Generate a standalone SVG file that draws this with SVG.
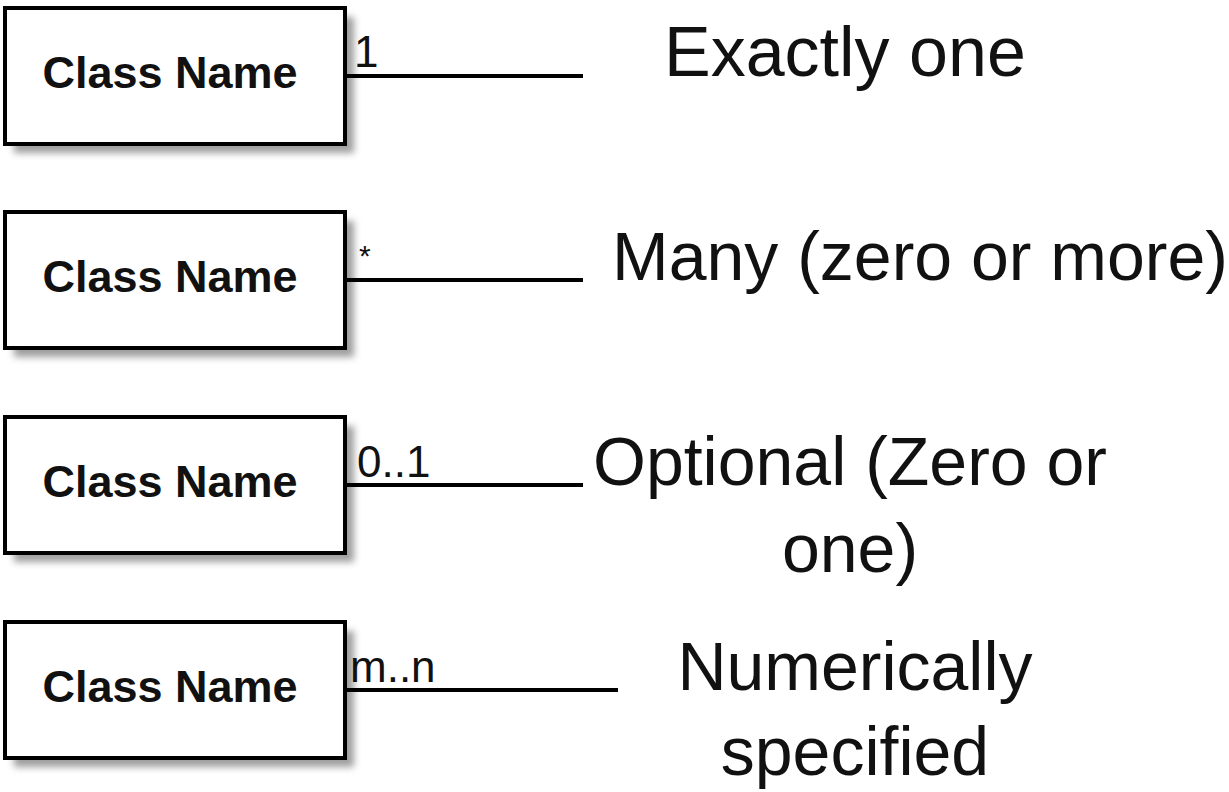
<svg xmlns="http://www.w3.org/2000/svg" width="1229" height="792" viewBox="0 0 1229 792">
  <defs>
    <filter id="shadow" x="-10%" y="-10%" width="130%" height="140%">
      <feGaussianBlur stdDeviation="3.5"/>
    </filter>
    <style>
      .box { fill: #ffffff; stroke: #000000; stroke-width: 4; }
      .shade { fill: #000000; fill-opacity: 0.38; filter: url(#shadow); }
      .cls { font-family: "Liberation Sans", Arial, sans-serif; font-weight: bold; font-size: 45px; fill: #111111; text-anchor: middle; }
      .mult { font-family: "Liberation Sans", Arial, sans-serif; font-size: 44px; fill: #111111; }
      .desc { font-family: "Liberation Sans", Arial, sans-serif; font-size: 68px; fill: #111111; }
      .conn { stroke: #000000; stroke-width: 4; fill: none; }
    </style>
  </defs>
  <rect width="1229" height="792" fill="#ffffff"/>

  <g id="node-exactly-one">
    <rect class="shade" x="14" y="17" width="340" height="136"/>
    <rect class="box" x="5" y="8" width="340" height="136"/>
    <text class="cls" x="170" y="88">Class Name</text>
  </g>
  <g id="node-many">
    <rect class="shade" x="14" y="221" width="340" height="136"/>
    <rect class="box" x="5" y="212" width="340" height="136"/>
    <text class="cls" x="170" y="292">Class Name</text>
  </g>
  <g id="node-optional">
    <rect class="shade" x="14" y="426" width="340" height="136"/>
    <rect class="box" x="5" y="417" width="340" height="136"/>
    <text class="cls" x="170" y="497">Class Name</text>
  </g>
  <g id="node-numeric">
    <rect class="shade" x="14" y="631" width="340" height="136"/>
    <rect class="box" x="5" y="622" width="340" height="136"/>
    <text class="cls" x="170" y="702">Class Name</text>
  </g>

  <g id="connectors">
    <line class="conn" x1="347" y1="76" x2="583" y2="76"/>
    <line class="conn" x1="347" y1="280" x2="583" y2="280"/>
    <line class="conn" x1="347" y1="485" x2="583" y2="485"/>
    <line class="conn" x1="347" y1="690" x2="618" y2="690"/>
    <text class="mult" x="354" y="67">1</text>
    <text class="mult" x="359" y="266" style="font-size:30px">*</text>
    <text class="mult" x="357" y="477">0..1</text>
    <text class="mult" x="350" y="682">m..n</text>
  </g>

  <g id="labels">
    <text class="desc" x="664" y="76" style="font-size:70px">Exactly one</text>
    <text class="desc" x="612" y="280">Many (zero or more)</text>
    <text class="desc" x="850" y="485" text-anchor="middle">Optional (Zero or</text>
    <text class="desc" x="850" y="572" text-anchor="middle">one)</text>
    <text class="desc" x="855" y="690" text-anchor="middle">Numerically</text>
    <text class="desc" x="855" y="775" text-anchor="middle">specified</text>
  </g>
</svg>
